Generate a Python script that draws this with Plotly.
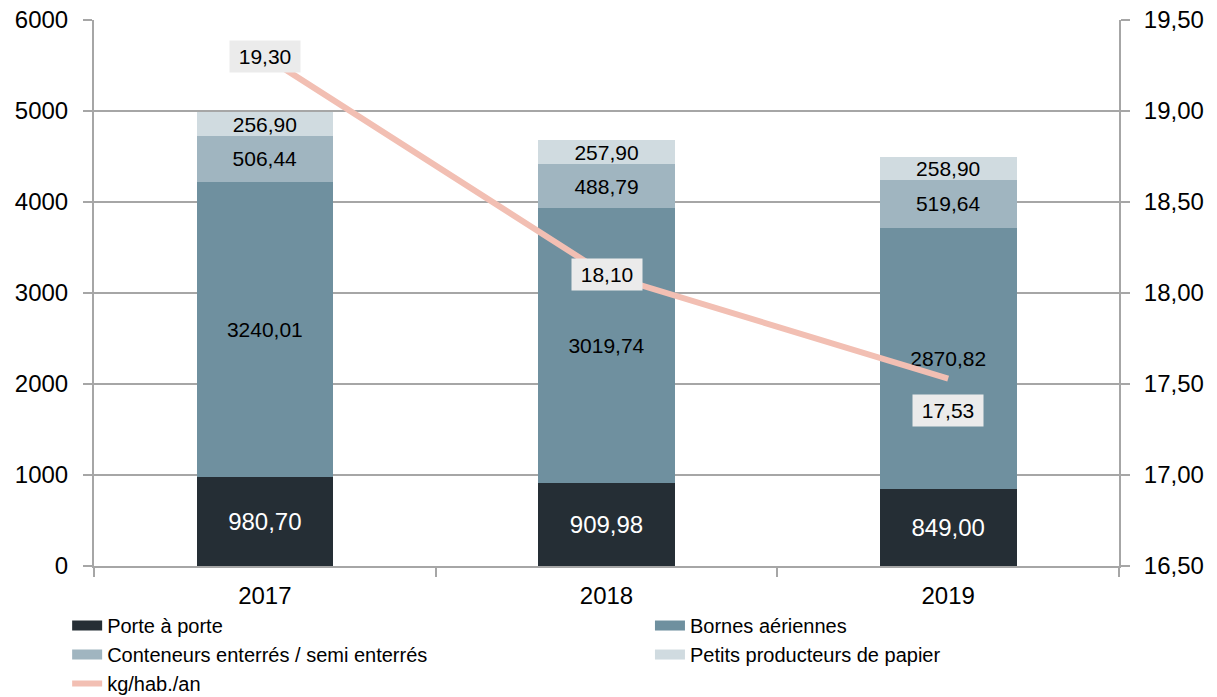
import plotly.graph_objects as go

years = ["2017", "2018", "2019"]
porte_a_porte = [980.70, 909.98, 849.00]
bornes_aeriennes = [3240.01, 3019.74, 2870.82]
conteneurs_enterres = [506.44, 488.79, 519.64]
petits_producteurs = [256.90, 257.90, 258.90]
kg_hab_an = [19.30, 18.10, 17.53]

# name, values, colour, label colour, label size, legend column
series = [
    ("Porte à porte", porte_a_porte, "#252E35", "white", 24, "legend"),
    ("Bornes aériennes", bornes_aeriennes, "#6F909F", "black", 21, "legend2"),
    ("Conteneurs enterrés / semi enterrés", conteneurs_enterres, "#A0B5C0", "black", 21, "legend"),
    ("Petits producteurs de papier", petits_producteurs, "#D0DBE0", "black", 21, "legend2"),
]

FONT = "Liberation Sans, Arial, sans-serif"
GRID = "#A6A6A6"
LINE_COLOR = "#F2BFB3"

fig = go.Figure()
for name, vals, color, tcolor, tsize, leg in series:
    fig.add_trace(go.Bar(
        x=years, y=vals, name=name, showlegend=False, legendgroup=name,
        marker=dict(color=color, line=dict(width=0)),
        texttemplate="%{y:.2f}", textposition="inside",
        insidetextanchor="middle", textangle=0, constraintext="none",
        insidetextfont=dict(color=tcolor, size=tsize, family=FONT),
        hoverinfo="skip",
    ))

# legend entries (wide rectangular swatches like the original)
for name, vals, color, tcolor, tsize, leg in series:
    fig.add_trace(go.Scatter(
        x=[None], y=[None], name=name, legendgroup=name, legend=leg,
        mode="lines", line=dict(color=color, width=14),
        hoverinfo="skip",
    ))

fig.add_trace(go.Scatter(
    x=years, y=kg_hab_an, name="kg/hab./an", yaxis="y2", legend="legend",
    mode="lines", line=dict(color=LINE_COLOR, width=6),
    hoverinfo="skip",
))

yshifts = [0, 0, -32]
for i, (v, ys) in enumerate(zip(kg_hab_an, yshifts)):
    fig.add_annotation(
        x=i, y=v, xref="x", yref="y2",
        text=f"{v:.2f}".replace(".", ","),
        showarrow=False, yshift=ys,
        bgcolor="#EBEBEB", borderpad=4, width=62, height=23,
        font=dict(size=21, color="black", family=FONT),
    )

leg_common = dict(
    orientation="v", xanchor="left", yanchor="top", y=-0.0733,
    font=dict(size=20, family=FONT, color="black"),
    itemwidth=30, bgcolor="rgba(0,0,0,0)", borderwidth=0,
    traceorder="normal", tracegroupgap=0,
)

fig.update_layout(
    width=1217, height=697,
    margin=dict(l=86, r=106, t=12, b=139, autoexpand=False),
    paper_bgcolor="white", plot_bgcolor="white",
    barmode="stack", bargap=0.6,
    separators=",.",
    font=dict(family=FONT, size=24, color="black"),
    showlegend=True,
    legend=dict(x=-0.0262, **leg_common),
    legend2=dict(x=0.5424, **leg_common),
    xaxis=dict(
        type="category", categoryorder="array", categoryarray=years,
        range=[-0.5, len(years) - 0.5], autorange=False, automargin=False,
        showgrid=False, showline=True, linecolor=GRID, linewidth=2,
        ticks="outside", tickson="boundaries", ticklen=9, tickcolor=GRID, tickwidth=2,
        tickfont=dict(size=24), ticklabelstandoff=7, ticklabeloverflow="allow",
        fixedrange=True,
    ),
    yaxis=dict(
        range=[0, 6000], dtick=1000, tickformat=".0f", automargin=False,
        showgrid=True, gridcolor=GRID, gridwidth=2,
        showline=True, linecolor=GRID, linewidth=2,
        ticks="outside", ticklen=9, tickcolor=GRID, tickwidth=2,
        tickfont=dict(size=24), ticklabelstandoff=10, ticklabeloverflow="allow",
        zeroline=False,
    ),
    yaxis2=dict(
        range=[16.5, 19.5], dtick=0.5, tickformat=".2f", automargin=False,
        overlaying="y", side="right", showgrid=False,
        showline=True, linecolor=GRID, linewidth=2,
        ticks="outside", ticklen=9, tickcolor=GRID, tickwidth=2,
        tickfont=dict(size=24), ticklabelstandoff=9, ticklabeloverflow="allow",
        zeroline=False,
    ),
)

fig.write_html("out.html")
